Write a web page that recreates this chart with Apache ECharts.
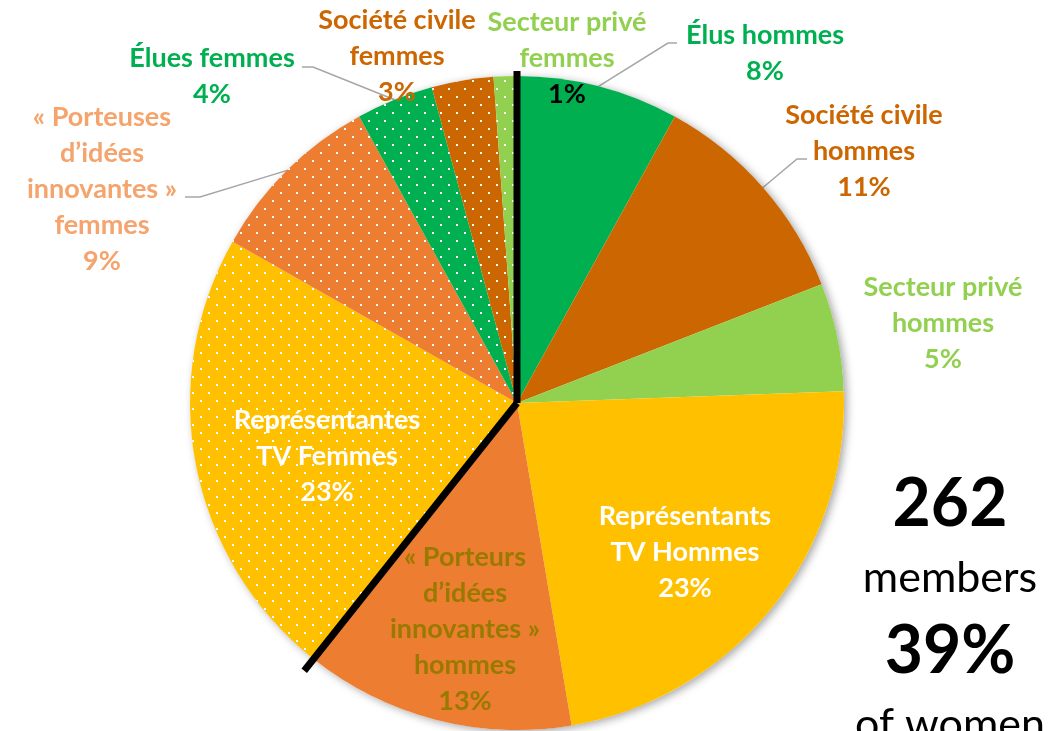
<!DOCTYPE html>
<html>
<head>
<meta charset="utf-8">
<script src="https://cdn.jsdelivr.net/npm/echarts@6/dist/echarts.min.js"></script>
<style>
  html, body { margin: 0; padding: 0; background: #fff; }
  #chart { width: 1060px; height: 731px; }
</style>
</head>
<body>
<div id="chart"></div>
<script>
// members per group, clockwise from 12 o'clock
const categories = [
    'Élus hommes',
    'Société civile\nhommes',
    'Secteur privé\nhommes',
    'Représentants\nTV Hommes',
    '« Porteurs\nd’idées\ninnovantes »\nhommes',
    'Représentantes\nTV Femmes',
    '« Porteuses\nd’idées\ninnovantes »\nfemmes',
    'Élues femmes',
    'Société civile\nfemmes',
    'Secteur privé\nfemmes',
];
const memberCounts = [21, 29, 14, 60, 35, 59, 23, 10, 8, 3];
const isWomen = [false, false, false, false, false, true, true, true, true, true];

const sliceColors = ['#00B050', '#CC6600', '#92D050', '#FFC000', '#ED7D31',
                     '#FFC000', '#ED7D31', '#00B050', '#CC6600', '#92D050'];
const nameColors = ['#00B050', '#CC6600', '#92D050', '#ffffff', '#997A00',
                    '#ffffff', '#F4A46C', '#00B050', '#CC6600', '#92D050'];
const valueColors = ['#00B050', '#CC6600', '#92D050', '#ffffff', '#997A00',
                     '#ffffff', '#F4A46C', '#00B050', '#CC6600', '#000000'];

// label anchors (centre of each text block) and leader line elbows
const labelPos = [
    [765, 53], [864, 151], [943, 323], [685, 552], [465, 629],
    [327, 456], [102, 189], [212, 76], [397, 56], [567, 58],
];
const leaderElbows = {
    0: [[668, 43], [677, 43]],
    1: [[797, 159], [807, 159]],
    6: [[200, 197], [185, 197]],
    7: [[313, 67], [302, 67]],
};

const FONT = 'Lato, "Open Sans", sans-serif';
const LABEL_SIZE = 27;
const cx = 517, cy = 403, r = 327;

const total = memberCounts.reduce((a, b) => a + b, 0);
const womenCount = memberCounts.reduce((a, v, i) => a + (isWomen[i] ? v : 0), 0);
const menShare = (total - womenCount) / total;

const dots = {
    symbol: 'rect',
    symbolSize: 1,
    color: '#ffffff',
    dashArrayX: [[2, 14], [0, 8, 2, 6]],
    dashArrayY: [2, 6],
    rotation: 0,
};

const chart = echarts.init(document.getElementById('chart'), null, { renderer: 'canvas' });

const splitEnd = (angle, len) => [cx + len * Math.sin(angle), cy - len * Math.cos(angle)];
const lowEnd = splitEnd(menShare * Math.PI * 2, r + 15);

const textStyle = (color) => ({
    color, fontFamily: FONT, fontWeight: 'bold', fontSize: LABEL_SIZE, lineHeight: 36, align: 'center',
});

chart.setOption({
    backgroundColor: '#ffffff',
    animation: false,
    series: [
        {
            // soft drop shadow under the whole pie
            type: 'pie',
            silent: true,
            center: [cx, cy],
            radius: r,
            label: { show: false },
            labelLine: { show: false },
            itemStyle: {
                color: '#ffffff',
                shadowBlur: 8,
                shadowOffsetX: 3,
                shadowOffsetY: 2,
                shadowColor: 'rgba(0,0,0,0.35)',
            },
            data: [{ value: 1 }],
        },
        {
            type: 'pie',
            center: [cx, cy],
            radius: r,
            startAngle: 90,
            clockwise: true,
            avoidLabelOverlap: false,
            itemStyle: { borderWidth: 0 },
            label: {
                show: true,
                position: 'outside',
                fontFamily: FONT,
                fontWeight: 'bold',
                fontSize: LABEL_SIZE,
                lineHeight: 36,
                align: 'center',
            },
            labelLine: { show: true, length: 10, length2: 10, lineStyle: { color: '#A6A6A6', width: 1.5 } },
            labelLayout: (params) => {
                const i = params.dataIndex;
                const out = { x: labelPos[i][0], y: labelPos[i][1], align: 'center', verticalAlign: 'middle' };
                if (leaderElbows[i] && params.labelLinePoints) {
                    out.labelLinePoints = [params.labelLinePoints[0], ...leaderElbows[i]];
                }
                return out;
            },
            data: memberCounts.map((v, i) => ({
                value: v,
                name: categories[i],
                itemStyle: isWomen[i] ? { color: sliceColors[i], decal: dots } : { color: sliceColors[i] },
                labelLine: { show: !!leaderElbows[i] },
                label: {
                    formatter: () => `{n|${categories[i]}}\n{v|${Math.round(v / total * 100)}%}`,
                    rich: { n: textStyle(nameColors[i]), v: textStyle(valueColors[i]) },
                },
            })),
        },
    ],
    graphic: [
        {
            type: 'line', z: 100,
            shape: { x1: cx, y1: cy, x2: cx, y2: cy - r - 5 },
            style: { stroke: '#000', lineWidth: 7 },
        },
        {
            type: 'line', z: 100,
            shape: { x1: cx, y1: cy, x2: lowEnd[0], y2: lowEnd[1] },
            style: { stroke: '#000', lineWidth: 7 },
        },
        {
            type: 'text', z: 100, x: 950, y: 505,
            style: { text: String(total), fill: '#000', font: `bold 66px ${FONT}`, align: 'center', verticalAlign: 'middle' },
        },
        {
            type: 'text', z: 100, x: 950, y: 578,
            style: { text: 'members', fill: '#000', font: `43px ${FONT}`, align: 'center', verticalAlign: 'middle' },
        },
        {
            type: 'text', z: 100, x: 950, y: 652,
            style: { text: `${Math.round(womenCount / total * 100)}%`, fill: '#000', font: `bold 66px ${FONT}`, align: 'center', verticalAlign: 'middle' },
        },
        {
            type: 'text', z: 100, x: 950, y: 725,
            style: { text: 'of women', fill: '#000', font: `43px ${FONT}`, align: 'center', verticalAlign: 'middle' },
        },
    ],
});

window.addEventListener('resize', () => chart.resize());
</script>
</body>
</html>
